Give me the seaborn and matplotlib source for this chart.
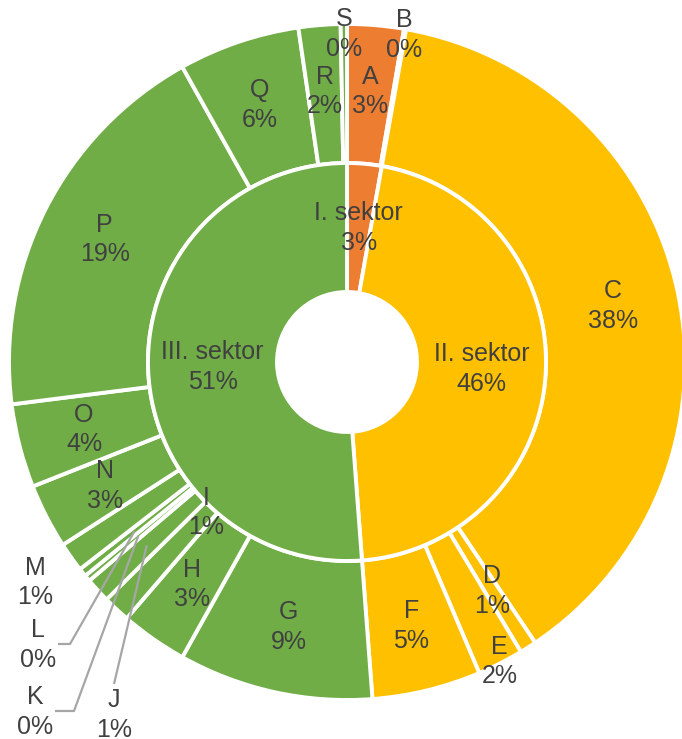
import matplotlib
matplotlib.use('Agg')
import matplotlib.pyplot as plt
import numpy as np
import seaborn as sns

# inner ring: sectors
SECTORS = ['I. sektor', 'II. sektor', 'III. sektor']
SECTOR_COLORS = ['#ED7D31', '#FFC000', '#70AD47']

# outer ring: sections (share in %)
SECTIONS = ['A', 'B', 'C', 'D', 'E', 'F', 'G', 'H', 'I', 'J', 'K', 'L',
            'M', 'N', 'O', 'P', 'Q', 'R', 'S']
SECTION_SHARE = [2.7, 0.1, 37.8, 0.8, 2.2, 5.2, 9.3, 3.2, 1.3, 1.2, 0.3, 0.4,
                 1.4, 3.1, 4.0, 18.9, 5.8, 2.0, 0.3]
SECTION_SECTOR = [0, 0, 1, 1, 1, 1, 2, 2, 2, 2, 2, 2,
                  2, 2, 2, 2, 2, 2, 2]

SECTOR_SHARE = [sum(v for v, s in zip(SECTION_SHARE, SECTION_SECTOR) if s == i)
                for i in range(len(SECTORS))]

TEXT = '#404040'
LEADER = '#A6A6A6'

sns.set_theme(style='white')
plt.rcParams['font.family'] = ['Liberation Sans', 'DejaVu Sans']

W, H = 682, 739
fig = plt.figure(figsize=(W / 100, H / 100), dpi=100)
ax = fig.add_axes([0, 0, 1, 1])

cx, cy = 347, H - 362
r_hole, r_mid, r_out = 70, 199, 338

wp = dict(edgecolor='white', linewidth=2.8)
outer, _ = ax.pie(SECTION_SHARE, radius=r_out, center=(cx, cy), startangle=90,
                  counterclock=False,
                  colors=[SECTOR_COLORS[s] for s in SECTION_SECTOR],
                  wedgeprops=dict(width=r_out - r_mid, **wp))
inner, _ = ax.pie(SECTOR_SHARE, radius=r_mid, center=(cx, cy), startangle=90,
                  counterclock=False, colors=SECTOR_COLORS,
                  wedgeprops=dict(width=r_mid - r_hole, **wp))

ax.set_xlim(0, W)
ax.set_ylim(0, H)
ax.set_aspect('equal')
ax.axis('off')


def mid(w):
    return np.deg2rad((w.theta1 + w.theta2) / 2)


def polar(a, r):
    return cx + r * np.cos(a), cy + r * np.sin(a)


fs = 18
ls = 1.3
for w, name, val in zip(inner, SECTORS, SECTOR_SHARE):
    x, y = polar(mid(w), (r_hole + r_mid) / 2)
    ax.text(x, y, f'{name}\n{round(val)}%', ha='center', va='center',
            fontsize=fs, color=TEXT, linespacing=ls)

# labels pushed out of thin wedges: name -> radius
PUSHED = {'S': 328, 'B': 332, 'E': 336, 'I': 206, 'M': 382}
# labels with leader lines: name -> (label x, label y, elbow x)
LEADERS = {'L': (38, 645, 70), 'K': (35, 712, 74), 'J': (114, 715, None)}

r_lab = (r_mid + r_out) / 2 + 3
for w, name, val in zip(outer, SECTIONS, SECTION_SHARE):
    label = f'{name}\n{round(val)}%'
    a = mid(w)
    if name in LEADERS:
        lx, ly, ex = LEADERS[name]
        ly = H - ly
        tx, ty = polar(a, r_lab)
        if ex is None:
            xs, ys = [lx, tx], [ly + 31, ty]
        else:
            xs, ys = [lx + 20, ex, tx], [ly + 1, ly + 1, ty]
        ax.plot(xs, ys, color=LEADER, lw=1.6, solid_capstyle='butt')
        ax.text(lx, ly, label, ha='center', va='center', fontsize=fs,
                color=TEXT, linespacing=ls)
        continue
    x, y = polar(a, PUSHED.get(name, r_lab))
    ax.text(x, y, label, ha='center', va='center', fontsize=fs, color=TEXT,
            linespacing=ls)

fig.savefig('out.png', dpi=100)
